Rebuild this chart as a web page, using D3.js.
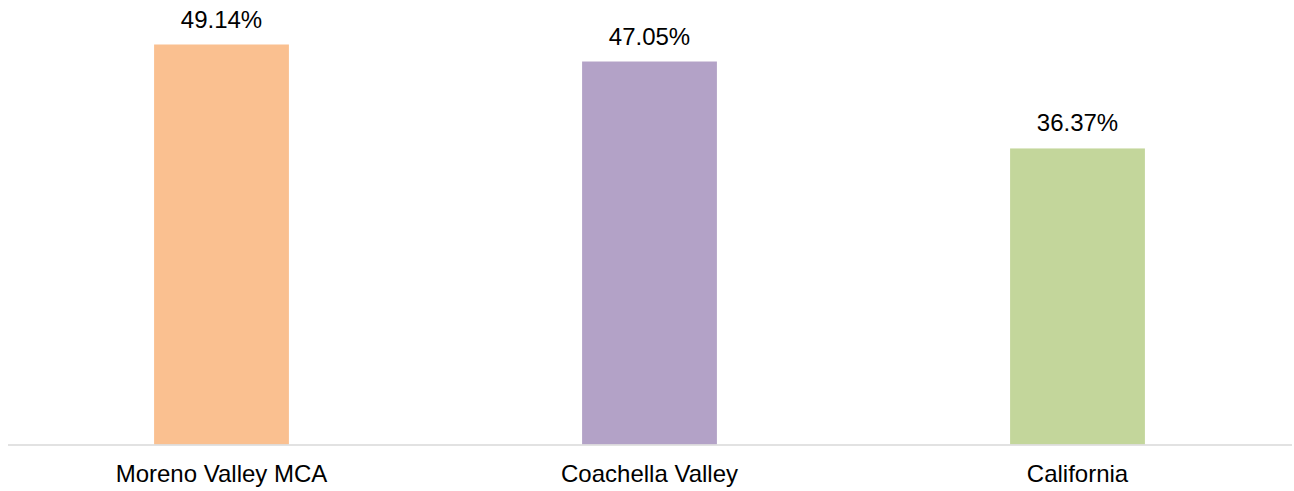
<!DOCTYPE html>
<html>
<head>
<meta charset="utf-8">
<script src="https://cdn.jsdelivr.net/npm/d3@7"></script>
<style>
  body { margin: 0; background: #fff; }
  text { font-family: "Liberation Sans", Arial, sans-serif; fill: #000; }
</style>
</head>
<body>
<script>
var regions = ['Moreno Valley MCA', 'Coachella Valley', 'California']
var shares = [49.14, 47.05, 36.37]
var colors = ['#FAC090', '#B3A2C7', '#C3D69B']

var width = 1294
var height = 491

var x = d3.scaleBand()
  .domain(regions)
  .range([7.5, 1291.5])
  .paddingInner(0.685)
  .paddingOuter(0.3425)

var y = d3.scaleLinear().domain([0, 50]).range([444.5, 37.5])

var svg = d3.select('body').append('svg')
  .attr('width', width)
  .attr('height', height)

var data = regions.map((r, i) => ({region: r, value: shares[i], color: colors[i]}))

svg.selectAll('rect.bar')
  .data(data)
  .enter().append('rect')
  .attr('class', 'bar')
  .attr('x', d => x(d.region))
  .attr('width', x.bandwidth())
  .attr('y', d => y(d.value))
  .attr('height', d => y(0) - y(d.value))
  .style('fill', d => d.color)

// value labels above bars
svg.selectAll('text.val')
  .data(data)
  .enter().append('text')
  .attr('class', 'val')
  .attr('x', d => x(d.region) + x.bandwidth() / 2)
  .attr('y', d => y(d.value) - 17)
  .attr('text-anchor', 'middle')
  .style('font-size', '24px')
  .text(d => d.value.toFixed(2) + '%')

// category axis
var xAxis = svg.append('g')
  .attr('transform', `translate(0, ${y(0)})`)
  .call(d3.axisBottom(x).tickSize(0).tickPadding(20))
xAxis.select('.domain').attr('stroke', '#D9D9D9').attr('stroke-width', 1.5)
xAxis.selectAll('text').style('font-size', '24px').style('fill', '#000')
</script>
</body>
</html>
